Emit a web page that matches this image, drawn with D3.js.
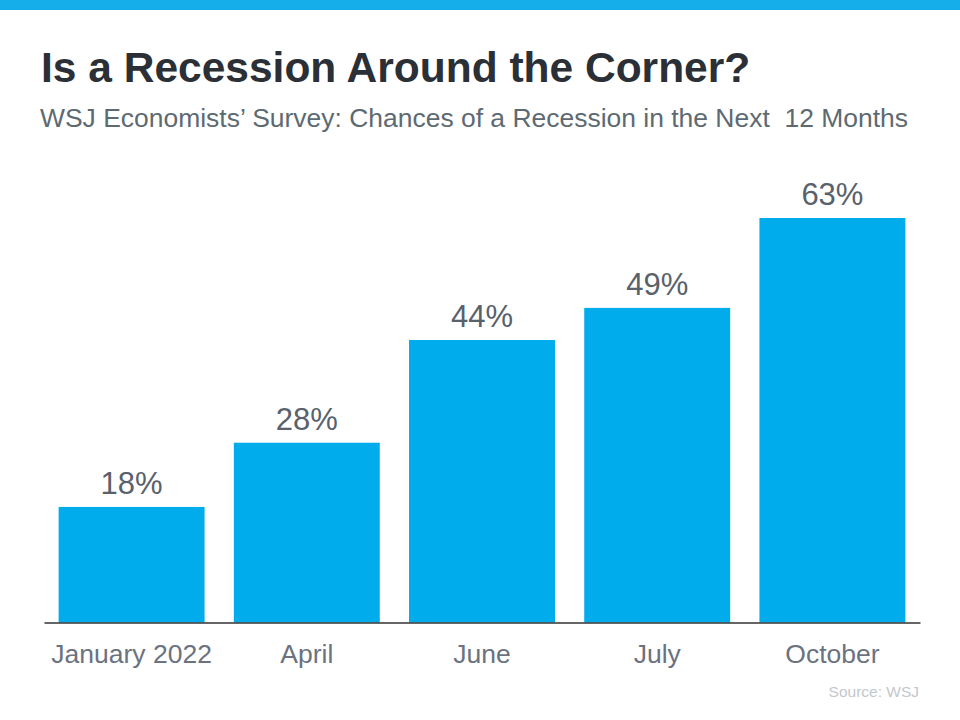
<!DOCTYPE html>
<html>
<head>
<meta charset="utf-8">
<script src="https://cdn.jsdelivr.net/npm/d3@7"></script>
<style>
  html, body { margin: 0; padding: 0; background: #fff; }
  svg { display: block; font-family: "Liberation Sans", Arial, Helvetica, sans-serif; }
</style>
</head>
<body>
<svg id="chart" width="960" height="720"></svg>
<script>
const categories = ["January 2022", "April", "June", "July", "October"];
const values = [18, 28, 44, 49, 63];
const valueLabels = ["18%", "28%", "44%", "49%", "63%"];

const titleText = "Is a Recession Around the Corner?";
const subtitleText = "WSJ Economists\u2019 Survey: Chances of a Recession in the Next\u00a0 12 Months";
const sourceText = "Source: WSJ";

const svg = d3.select("#chart");

// top stripe
svg.append("rect").attr("x", 0).attr("y", 0).attr("width", 960).attr("height", 10).attr("fill", "#16aeea");

svg.append("text").attr("x", 41).attr("y", 82)
  .attr("font-size", 42.5).attr("font-weight", "bold").attr("fill", "#2b2f36")
  .text(titleText);

svg.append("text").attr("x", 40).attr("y", 127)
  .attr("font-size", 26.3).attr("fill", "#5d6a72")
  .attr("textLength", 868).attr("lengthAdjust", "spacingAndGlyphs")
  .text(subtitleText);

const x = d3.scaleBand().domain(categories).range([44, 920]).paddingInner(0.167).paddingOuter(0.0835);
const y = d3.scaleLinear().domain([0, 63]).range([622.5, 218]);

const data = categories.map((c, i) => ({ c, v: values[i], l: valueLabels[i] }));

svg.append("g").selectAll("rect").data(data).join("rect")
  .attr("x", d => x(d.c)).attr("width", x.bandwidth())
  .attr("y", d => y(d.v)).attr("height", d => y(0) - y(d.v))
  .attr("fill", "#00acec");

svg.append("g").selectAll("text").data(data).join("text")
  .attr("x", d => x(d.c) + x.bandwidth() / 2)
  .attr("y", d => y(d.v) - 13)
  .attr("text-anchor", "middle").attr("font-size", 31).attr("fill", "#58616c")
  .text(d => d.l);

const axis = d3.axisBottom(x).tickSize(0).tickPadding(0);
const gx = svg.append("g").attr("transform", `translate(0,${y(0)})`).call(axis);
gx.select(".domain").attr("stroke", "#333").attr("stroke-width", 1.5);
gx.selectAll(".tick text")
  .attr("font-size", 26.5).attr("fill", "#6b7280")
  .attr("font-family", "\"Liberation Sans\", Arial, sans-serif")
  .attr("dy", 0).attr("y", 40.5);

svg.append("text").attr("x", 919).attr("y", 697)
  .attr("text-anchor", "end").attr("font-size", 15.5).attr("fill", "#c3c7cc")
  .text(sourceText);
</script>
</body>
</html>
